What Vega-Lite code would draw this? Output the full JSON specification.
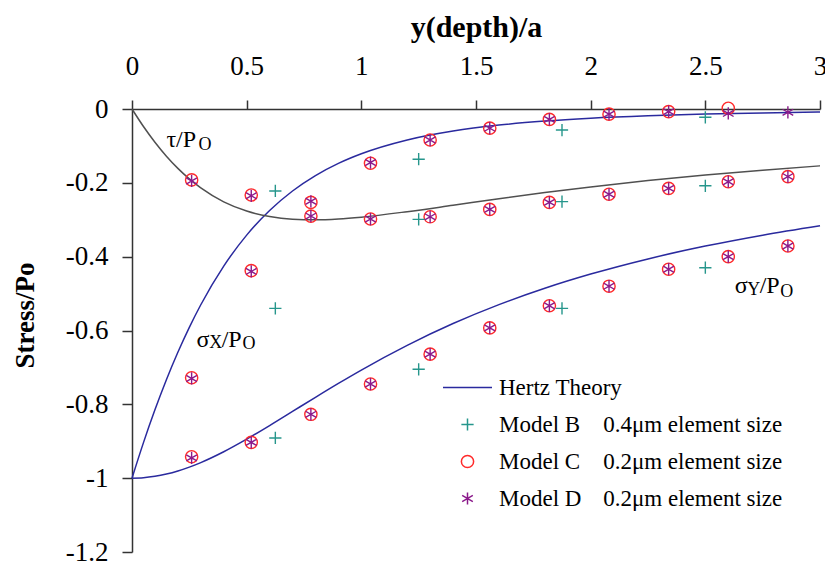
{
  "$schema": "https://vega.github.io/schema/vega-lite/v6.json",
  "width": 688,
  "height": 443,
  "autosize": {"type": "none"},
  "padding": {"left": 132, "top": 109, "right": 5, "bottom": 15},
  "background": "white",
  "config": {"view": {"stroke": null}, "font": "Liberation Serif"},
  "datasets": {
    "curves": [
      {"z": 0, "stress": -1, "curve": "sx"}, {"z": 0.05, "stress": -0.9037, "curve": "sx"}, {"z": 0.1, "stress": -0.8149, "curve": "sx"}, {"z": 0.15, "stress": -0.7334, "curve": "sx"}, {"z": 0.2, "stress": -0.659, "curve": "sx"}, {"z": 0.25, "stress": -0.5914, "curve": "sx"}, {"z": 0.3, "stress": -0.5302, "curve": "sx"}, {"z": 0.4, "stress": -0.4256, "curve": "sx"}, {"z": 0.5, "stress": -0.3416, "curve": "sx"}, {"z": 0.6, "stress": -0.2749, "curve": "sx"}, {"z": 0.7, "stress": -0.2221, "curve": "sx"}, {"z": 0.8, "stress": -0.1804, "curve": "sx"}, {"z": 0.9, "stress": -0.1474, "curve": "sx"}, {"z": 1.0, "stress": -0.1213, "curve": "sx"}, {"z": 1.2, "stress": -0.0839, "curve": "sx"}, {"z": 1.4, "stress": -0.0597, "curve": "sx"}, {"z": 1.6, "stress": -0.0436, "curve": "sx"}, {"z": 1.8, "stress": -0.0326, "curve": "sx"}, {"z": 2.0, "stress": -0.0249, "curve": "sx"}, {"z": 2.25, "stress": -0.0183, "curve": "sx"}, {"z": 2.5, "stress": -0.0138, "curve": "sx"}, {"z": 2.75, "stress": -0.0106, "curve": "sx"}, {"z": 3.0, "stress": -0.0083, "curve": "sx"},
      {"z": 0, "stress": -1, "curve": "sy"}, {"z": 0.05, "stress": -0.9988, "curve": "sy"}, {"z": 0.1, "stress": -0.995, "curve": "sy"}, {"z": 0.15, "stress": -0.9889, "curve": "sy"}, {"z": 0.2, "stress": -0.9806, "curve": "sy"}, {"z": 0.25, "stress": -0.9701, "curve": "sy"}, {"z": 0.3, "stress": -0.9578, "curve": "sy"}, {"z": 0.4, "stress": -0.9285, "curve": "sy"}, {"z": 0.5, "stress": -0.8944, "curve": "sy"}, {"z": 0.6, "stress": -0.8575, "curve": "sy"}, {"z": 0.7, "stress": -0.8192, "curve": "sy"}, {"z": 0.8, "stress": -0.7809, "curve": "sy"}, {"z": 0.9, "stress": -0.7433, "curve": "sy"}, {"z": 1.0, "stress": -0.7071, "curve": "sy"}, {"z": 1.2, "stress": -0.6402, "curve": "sy"}, {"z": 1.4, "stress": -0.5812, "curve": "sy"}, {"z": 1.6, "stress": -0.53, "curve": "sy"}, {"z": 1.8, "stress": -0.4856, "curve": "sy"}, {"z": 2.0, "stress": -0.4472, "curve": "sy"}, {"z": 2.25, "stress": -0.4061, "curve": "sy"}, {"z": 2.5, "stress": -0.3714, "curve": "sy"}, {"z": 2.75, "stress": -0.3417, "curve": "sy"}, {"z": 3.0, "stress": -0.3162, "curve": "sy"},
      {"z": 0, "stress": 0, "curve": "tau"}, {"z": 0.05, "stress": -0.0475, "curve": "tau"}, {"z": 0.1, "stress": -0.09, "curve": "tau"}, {"z": 0.15, "stress": -0.1278, "curve": "tau"}, {"z": 0.2, "stress": -0.1608, "curve": "tau"}, {"z": 0.25, "stress": -0.1894, "curve": "tau"}, {"z": 0.3, "stress": -0.2138, "curve": "tau"}, {"z": 0.4, "stress": -0.2515, "curve": "tau"}, {"z": 0.5, "stress": -0.2764, "curve": "tau"}, {"z": 0.6, "stress": -0.2913, "curve": "tau"}, {"z": 0.7, "stress": -0.2986, "curve": "tau"}, {"z": 0.8, "stress": -0.3003, "curve": "tau"}, {"z": 0.9, "stress": -0.2979, "curve": "tau"}, {"z": 1.0, "stress": -0.2929, "curve": "tau"}, {"z": 1.2, "stress": -0.2781, "curve": "tau"}, {"z": 1.4, "stress": -0.2608, "curve": "tau"}, {"z": 1.6, "stress": -0.2432, "curve": "tau"}, {"z": 1.8, "stress": -0.2265, "curve": "tau"}, {"z": 2.0, "stress": -0.2112, "curve": "tau"}, {"z": 2.25, "stress": -0.1939, "curve": "tau"}, {"z": 2.5, "stress": -0.1788, "curve": "tau"}, {"z": 2.75, "stress": -0.1656, "curve": "tau"}, {"z": 3.0, "stress": -0.154, "curve": "tau"}
    ],
    "points": [
      {"z": 0.26, "stress": -0.192, "model": "Model C"}, {"z": 0.26, "stress": -0.728, "model": "Model C"}, {"z": 0.26, "stress": -0.942, "model": "Model C"},
      {"z": 0.52, "stress": -0.233, "model": "Model C"}, {"z": 0.52, "stress": -0.438, "model": "Model C"}, {"z": 0.52, "stress": -0.903, "model": "Model C"},
      {"z": 0.78, "stress": -0.253, "model": "Model C"}, {"z": 0.78, "stress": -0.29, "model": "Model C"}, {"z": 0.78, "stress": -0.827, "model": "Model C"},
      {"z": 1.04, "stress": -0.147, "model": "Model C"}, {"z": 1.04, "stress": -0.298, "model": "Model C"}, {"z": 1.04, "stress": -0.745, "model": "Model C"},
      {"z": 1.3, "stress": -0.084, "model": "Model C"}, {"z": 1.3, "stress": -0.292, "model": "Model C"}, {"z": 1.3, "stress": -0.664, "model": "Model C"},
      {"z": 1.56, "stress": -0.052, "model": "Model C"}, {"z": 1.56, "stress": -0.272, "model": "Model C"}, {"z": 1.56, "stress": -0.593, "model": "Model C"},
      {"z": 1.82, "stress": -0.028, "model": "Model C"}, {"z": 1.82, "stress": -0.253, "model": "Model C"}, {"z": 1.82, "stress": -0.533, "model": "Model C"},
      {"z": 2.08, "stress": -0.014, "model": "Model C"}, {"z": 2.08, "stress": -0.231, "model": "Model C"}, {"z": 2.08, "stress": -0.48, "model": "Model C"},
      {"z": 2.34, "stress": -0.007, "model": "Model C"}, {"z": 2.34, "stress": -0.215, "model": "Model C"}, {"z": 2.34, "stress": -0.434, "model": "Model C"},
      {"z": 2.6, "stress": 0.002, "model": "Model C"}, {"z": 2.6, "stress": -0.197, "model": "Model C"}, {"z": 2.6, "stress": -0.4, "model": "Model C"},
      {"z": 2.86, "stress": -0.183, "model": "Model C"}, {"z": 2.86, "stress": -0.371, "model": "Model C"},
      {"z": 0.625, "stress": -0.222, "model": "Model B"}, {"z": 0.625, "stress": -0.54, "model": "Model B"}, {"z": 0.625, "stress": -0.891, "model": "Model B"},
      {"z": 1.25, "stress": -0.136, "model": "Model B"}, {"z": 1.25, "stress": -0.299, "model": "Model B"}, {"z": 1.25, "stress": -0.705, "model": "Model B"},
      {"z": 1.875, "stress": -0.057, "model": "Model B"}, {"z": 1.875, "stress": -0.251, "model": "Model B"}, {"z": 1.875, "stress": -0.54, "model": "Model B"},
      {"z": 2.5, "stress": -0.0225, "model": "Model B"}, {"z": 2.5, "stress": -0.208, "model": "Model B"}, {"z": 2.5, "stress": -0.43, "model": "Model B"},
      {"z": 0.26, "stress": -0.195, "model": "Model D"}, {"z": 0.26, "stress": -0.73, "model": "Model D"}, {"z": 0.26, "stress": -0.945, "model": "Model D"},
      {"z": 0.52, "stress": -0.235, "model": "Model D"}, {"z": 0.52, "stress": -0.44, "model": "Model D"}, {"z": 0.52, "stress": -0.903, "model": "Model D"},
      {"z": 0.78, "stress": -0.25, "model": "Model D"}, {"z": 0.78, "stress": -0.29, "model": "Model D"}, {"z": 0.78, "stress": -0.827, "model": "Model D"},
      {"z": 1.04, "stress": -0.145, "model": "Model D"}, {"z": 1.04, "stress": -0.298, "model": "Model D"}, {"z": 1.04, "stress": -0.745, "model": "Model D"},
      {"z": 1.3, "stress": -0.084, "model": "Model D"}, {"z": 1.3, "stress": -0.292, "model": "Model D"}, {"z": 1.3, "stress": -0.664, "model": "Model D"},
      {"z": 1.56, "stress": -0.052, "model": "Model D"}, {"z": 1.56, "stress": -0.272, "model": "Model D"}, {"z": 1.56, "stress": -0.593, "model": "Model D"},
      {"z": 1.82, "stress": -0.028, "model": "Model D"}, {"z": 1.82, "stress": -0.253, "model": "Model D"}, {"z": 1.82, "stress": -0.533, "model": "Model D"},
      {"z": 2.08, "stress": -0.014, "model": "Model D"}, {"z": 2.08, "stress": -0.231, "model": "Model D"}, {"z": 2.08, "stress": -0.48, "model": "Model D"},
      {"z": 2.34, "stress": -0.007, "model": "Model D"}, {"z": 2.34, "stress": -0.215, "model": "Model D"}, {"z": 2.34, "stress": -0.434, "model": "Model D"},
      {"z": 2.6, "stress": -0.012, "model": "Model D"}, {"z": 2.6, "stress": -0.197, "model": "Model D"}, {"z": 2.6, "stress": -0.4, "model": "Model D"},
      {"z": 2.86, "stress": -0.009, "model": "Model D"}, {"z": 2.86, "stress": -0.183, "model": "Model D"}, {"z": 2.86, "stress": -0.371, "model": "Model D"}
    ],
    "labels": [
      {"x": 0.15, "y": -0.103, "text": "τ/P", "kind": "main"},
      {"x": 0.29, "y": -0.111, "text": "O", "kind": "sub"},
      {"x": 0.281, "y": -0.644, "text": "σ", "kind": "main"},
      {"x": 0.337, "y": -0.648, "text": "X", "kind": "sub"},
      {"x": 0.391, "y": -0.644, "text": "/P", "kind": "main"},
      {"x": 0.482, "y": -0.65, "text": "O", "kind": "sub"},
      {"x": 2.628, "y": -0.4995, "text": "σ", "kind": "main"},
      {"x": 2.683, "y": -0.504, "text": "Y", "kind": "sub"},
      {"x": 2.737, "y": -0.4995, "text": "/P", "kind": "main"},
      {"x": 2.827, "y": -0.5087, "text": "O", "kind": "sub"}
    ]
  },
  "layer": [
    {
      "data": {"name": "curves"},
      "mark": {"type": "line", "strokeWidth": 1.5, "interpolate": "monotone"},
      "encoding": {
        "x": {
          "field": "z", "type": "quantitative",
          "scale": {"domain": [0, 3], "nice": false, "zero": false},
          "axis": {
            "orient": "top", "values": [0, 0.5, 1, 1.5, 2, 2.5, 3], "format": "~g",
            "title": "y(depth)/a", "titleFontSize": 30, "titleFontWeight": "bold", "titlePadding": 10,
            "titleColor": "black", "titleFont": "Liberation Serif",
            "labelFontSize": 27, "labelPadding": 20, "labelColor": "black", "labelFont": "Liberation Serif",
            "labelFlush": false, "labelOverlap": false,
            "tickSize": 9, "tickColor": "#333", "tickWidth": 1.5, "domainColor": "#333", "domainWidth": 1.5, "grid": false
          }
        },
        "y": {
          "field": "stress", "type": "quantitative",
          "scale": {"domain": [-1.2, 0], "nice": false, "zero": false},
          "axis": {
            "values": [-1.2, -1, -0.8, -0.6, -0.4, -0.2, 0],
            "labelExpr": "datum.value < 0 ? '-' + format(-datum.value, '~g') : '0'",
            "title": "Stress/Po", "titleFontSize": 27, "titleFontWeight": "bold", "titlePadding": 26,
            "titleColor": "black", "titleFont": "Liberation Serif", "titleY": 206,
            "labelFontSize": 27, "labelPadding": 14, "labelColor": "black", "labelFont": "Liberation Serif",
            "labelFlush": false, "labelOverlap": false,
            "tickSize": 10, "tickColor": "#333", "tickWidth": 1.5, "domainColor": "#333", "domainWidth": 1.5, "grid": false
          }
        },
        "detail": {"field": "curve", "type": "nominal"},
        "stroke": {
          "field": "curve", "type": "nominal",
          "scale": {"domain": ["sx", "sy", "tau"], "range": ["#2a2a9e", "#2a2a9e", "#505050"]},
          "legend": null
        }
      }
    },
    {
      "data": {"name": "points"},
      "mark": {"type": "point", "filled": false, "size": 150, "strokeWidth": 1.4, "opacity": 1},
      "encoding": {
        "x": {"field": "z", "type": "quantitative"},
        "y": {"field": "stress", "type": "quantitative"},
        "color": {
          "field": "model", "type": "nominal",
          "scale": {"domain": ["Hertz Theory", "Model B", "Model C", "Model D"], "range": ["#2a2a9e", "#26968c", "#ff2a2a", "#8b1a8b"]},
          "legend": {
            "title": null, "orient": "none", "legendX": 324, "legendY": 267, "padding": 0,
            "symbolSize": 150, "symbolStrokeWidth": 1.5, "labelOffset": 20, "rowPadding": 13,
            "labelFontSize": 23, "labelFont": "Liberation Serif", "labelColor": "black", "labelLimit": 400,
            "labelExpr": "datum.label == 'Model B' ? 'Model B\u00a0\u00a0\u00a0\u00a00.4μm element size' : datum.label == 'Model C' ? 'Model C\u00a0\u00a0\u00a0\u00a00.2μm element size' : datum.label == 'Model D' ? 'Model D\u00a0\u00a0\u00a0\u20090.2μm element size' : datum.label"
          }
        },
        "shape": {
          "field": "model", "type": "nominal",
          "scale": {"domain": ["Hertz Theory", "Model B", "Model C", "Model D"], "range": ["M-4,0H4", "M-1,0H1M0,-1V1", "circle", "M0,-1V1M-0.87,-0.5L0.87,0.5M-0.87,0.5L0.87,-0.5"]}
        }
      }
    },
    {
      "data": {"name": "labels"},
      "transform": [{"filter": "datum.kind == 'main'"}],
      "mark": {"type": "text", "align": "left", "baseline": "alphabetic", "fontSize": 24, "font": "Liberation Serif", "color": "black"},
      "encoding": {
        "x": {"field": "x", "type": "quantitative"},
        "y": {"field": "y", "type": "quantitative"},
        "text": {"field": "text"}
      }
    },
    {
      "data": {"name": "labels"},
      "transform": [{"filter": "datum.kind == 'sub'"}],
      "mark": {"type": "text", "align": "left", "baseline": "alphabetic", "fontSize": 18, "font": "Liberation Serif", "color": "black"},
      "encoding": {
        "x": {"field": "x", "type": "quantitative"},
        "y": {"field": "y", "type": "quantitative"},
        "text": {"field": "text"}
      }
    }
  ]
}
